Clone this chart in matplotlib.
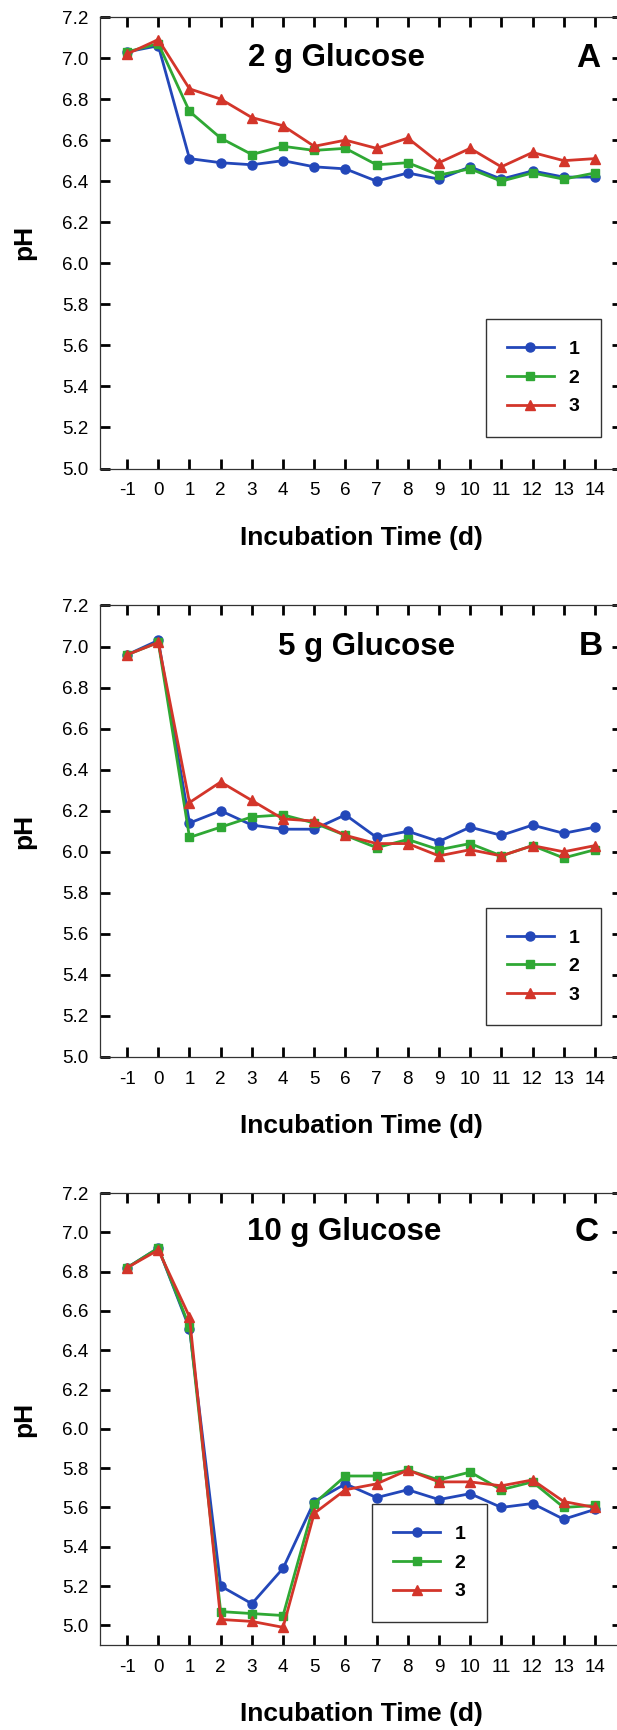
import matplotlib
matplotlib.use("Agg")
import matplotlib.pyplot as plt

plt.rcParams['font.family'] = ['Liberation Sans', 'DejaVu Sans']

# incubation days
days = list(range(-1, 15))

# pH, 2 g glucose
a_ph1 = [7.03, 7.06, 6.51, 6.49, 6.48, 6.50, 6.47, 6.46, 6.40, 6.44, 6.41, 6.47, 6.41, 6.45, 6.42, 6.42]
a_ph2 = [7.03, 7.07, 6.74, 6.61, 6.53, 6.57, 6.55, 6.56, 6.48, 6.49, 6.43, 6.46, 6.40, 6.44, 6.41, 6.44]
a_ph3 = [7.02, 7.09, 6.85, 6.80, 6.71, 6.67, 6.57, 6.60, 6.56, 6.61, 6.49, 6.56, 6.47, 6.54, 6.50, 6.51]

# pH, 5 g glucose
b_ph1 = [6.96, 7.03, 6.14, 6.20, 6.13, 6.11, 6.11, 6.18, 6.07, 6.10, 6.05, 6.12, 6.08, 6.13, 6.09, 6.12]
b_ph2 = [6.96, 7.02, 6.07, 6.12, 6.17, 6.18, 6.14, 6.08, 6.02, 6.06, 6.01, 6.04, 5.98, 6.03, 5.97, 6.01]
b_ph3 = [6.96, 7.02, 6.24, 6.34, 6.25, 6.16, 6.15, 6.08, 6.04, 6.04, 5.98, 6.01, 5.98, 6.03, 6.00, 6.03]

# pH, 10 g glucose
c_ph1 = [6.82, 6.92, 6.51, 5.20, 5.11, 5.29, 5.63, 5.72, 5.65, 5.69, 5.64, 5.67, 5.60, 5.62, 5.54, 5.59]
c_ph2 = [6.82, 6.92, 6.52, 5.07, 5.06, 5.05, 5.62, 5.76, 5.76, 5.79, 5.74, 5.78, 5.69, 5.73, 5.60, 5.61]
c_ph3 = [6.82, 6.91, 6.57, 5.03, 5.02, 4.99, 5.57, 5.69, 5.72, 5.79, 5.73, 5.73, 5.71, 5.74, 5.63, 5.60]

series_labels = ['1', '2', '3']
panel_titles = ['2 g Glucose', '5 g Glucose', '10 g Glucose']
panel_letters = ['A', 'B', 'C']
yticks = [5.0, 5.2, 5.4, 5.6, 5.8, 6.0, 6.2, 6.4, 6.6, 6.8, 7.0, 7.2]

colors = ['#2347b9', '#2fa834', '#d3352a']
markers = ['o', 's', '^']
msizes = [6.5, 5.5, 7]

panels = [
    (a_ph1, a_ph2, a_ph3),
    (b_ph1, b_ph2, b_ph3),
    (c_ph1, c_ph2, c_ph3),
]
ylims = [(5.0, 7.2), (5.0, 7.2), (4.9, 7.2)]
title_x = [5.70, 6.68, 5.97]
letter_x = [13.8, 13.87, 13.75]
legend_anchor = [(0.739, 0.331), (0.739, 0.331), (0.521, 0.312)]

fig = plt.figure(figsize=(6.17, 17.30), dpi=100)
W, H = 617.0, 1730.0
# axes boxes in pixels: left, top, width, height
boxes = [(100, 17, 522, 451.5), (100, 605.5, 522, 451.5), (100, 1193, 522, 452)]

for i, (vals, box) in enumerate(zip(panels, boxes)):
    l, t, w, h = box
    ax = fig.add_axes([l / W, 1 - (t + h) / H, w / W, h / H])
    for s, ys in enumerate(vals):
        ax.plot(days, ys, color=colors[s], marker=markers[s], markersize=msizes[s],
                lw=2.0, label=series_labels[s])

    ax.set_xlim(-1.87, 14.87)
    ax.set_ylim(*ylims[i])
    ax.set_xticks(days)
    ax.set_xticklabels([str(d) for d in days])
    ax.set_yticks(yticks)
    ax.set_yticklabels([f'{v:.1f}' for v in yticks])
    ax.tick_params(axis='both', direction='in', length=7.5, width=2.0,
                   top=True, right=True, labelsize=13.6, color='black')
    ax.tick_params(axis='x', pad=10)
    ax.tick_params(axis='y', pad=8.5)
    for sp in ax.spines.values():
        sp.set_linewidth(0.9)
        sp.set_color('#333333')

    ax.set_xlabel('Incubation Time (d)', fontsize=19, fontweight='bold')
    ax.xaxis.label.set_va('center')
    ax.xaxis.set_label_coords(0.5, -69.5 / h)
    ax.set_ylabel('pH', fontsize=19, fontweight='bold')
    ax.yaxis.label.set_va('center')
    ax.yaxis.set_label_coords(-76 / w, 0.5)

    ax.text(title_x[i], 7.0, panel_titles[i], fontsize=22.5, fontweight='bold',
            ha='center', va='center')
    ax.text(letter_x[i], 7.0, panel_letters[i], fontsize=24, fontweight='bold',
            ha='center', va='center')

    leg = ax.legend(loc='upper left', bbox_to_anchor=legend_anchor[i],
                    frameon=True, fancybox=False, edgecolor='black',
                    prop={'weight': 'bold', 'size': 14},
                    handlelength=2.4, handletextpad=0.75, borderpad=1.1,
                    labelspacing=0.57, borderaxespad=0)
    leg.get_frame().set_linewidth(1.0)

fig.savefig('out.png', dpi=100, facecolor='white')
